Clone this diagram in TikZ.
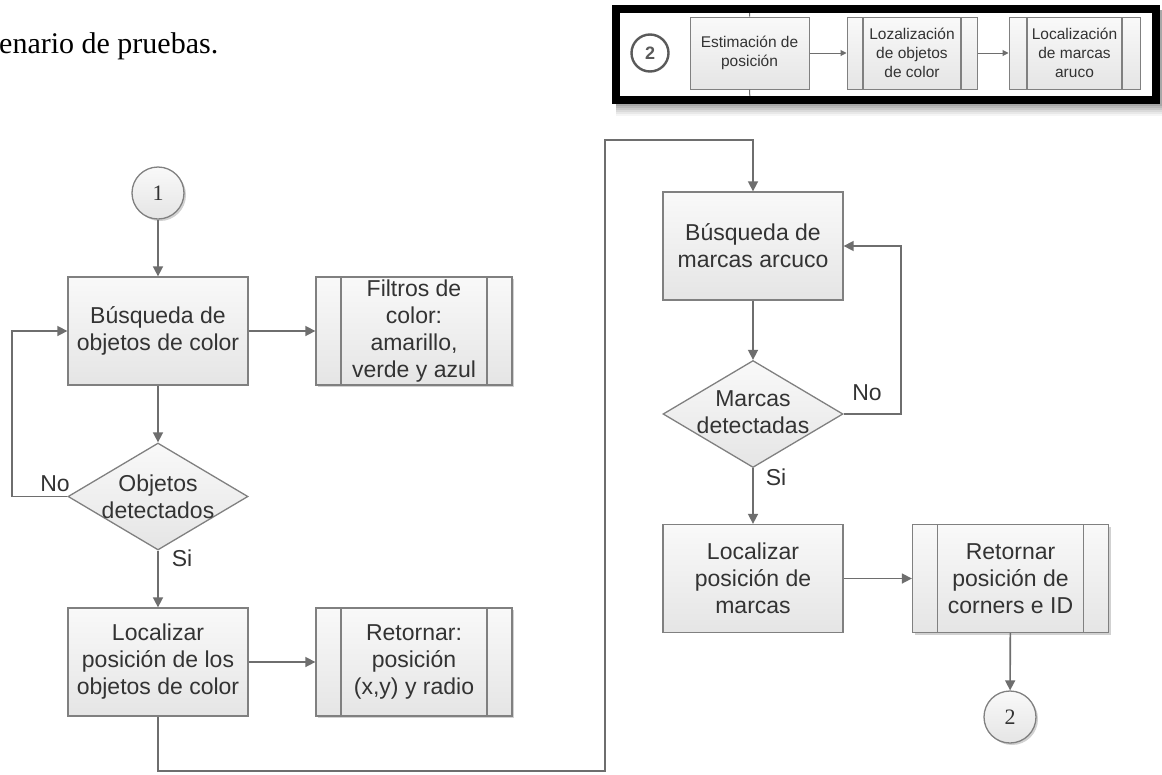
\documentclass[tikz,border=0pt]{standalone}
\usepackage{fontspec}
\setmainfont{Liberation Serif}
\newfontfamily\flowsans{Liberation Sans}
\usetikzlibrary{arrows.meta,shapes.geometric,shadows}

\definecolor{linegray}{HTML}{6E6E6E}
\definecolor{edgegray}{HTML}{808080}
\definecolor{txtgray}{HTML}{333333}
\definecolor{fillA}{HTML}{F9F9F9}
\definecolor{fillB}{HTML}{E5E5E5}
\definecolor{ringgray}{HTML}{5A5A5A}

\tikzset{
  boxbase/.style={draw=edgegray, line width=1.3pt, top color=fillA, bottom color=fillB,
    text=txtgray, align=center, inner sep=0pt},
  bigfont/.style={font=\flowsans\fontsize{23}{27}\selectfont},
  smallfont/.style={font=\flowsans\fontsize{15.5}{19}\selectfont},
  procbox/.style={boxbase, bigfont, minimum width=180pt, minimum height=108pt},
  bars/.style={path picture={
      \draw[draw=edgegray, line width=1.3pt]
        ([xshift=#1]path picture bounding box.north west) -- ([xshift=#1]path picture bounding box.south west)
        ([xshift=-#1]path picture bounding box.north east) -- ([xshift=-#1]path picture bounding box.south east);}},
  softshadow/.style={drop shadow={shadow xshift=2pt, shadow yshift=-2pt, opacity=0.18, fill=black}},
  predefbox/.style={boxbase, bigfont, minimum width=196pt, minimum height=108pt, bars=25pt, softshadow},
  decision/.style={diamond, draw=edgegray, line width=1.3pt, top color=fillA, bottom color=fillB,
    inner sep=0pt, minimum width=180pt, minimum height=107pt},
  dectext/.style={bigfont, text=txtgray, align=center, inner sep=0pt},
  connector/.style={circle, draw=edgegray, line width=1.3pt, top color=fillA, bottom color=fillB,
    minimum size=52pt, inner sep=0pt, text=txtgray, font=\fontsize{22}{22}\selectfont, softshadow},
  flow/.style={draw=linegray, line width=1.6pt, -{Triangle[width=10pt,length=10pt]}},
  answer/.style={bigfont, text=txtgray, inner sep=0pt},
  minibox/.style={boxbase, smallfont, minimum height=72pt, line width=1pt},
  miniflow/.style={draw=linegray, line width=1pt, -{Triangle[width=6pt,length=6pt]}},
}

\begin{document}
\begin{tikzpicture}[x=1pt, y=-1pt]
\useasboundingbox (0,0) rectangle (1162,774);
\fill[white] (0,0) rectangle (1162,774);

% caption fragment
\node[anchor=base west, inner sep=0pt, font=\fontsize{30}{31}\selectfont] (cap) at (-1,53) {enario de pruebas.};

% ---------------- overview strip (top right) ----------------
\foreach \k/\o in {2/0.10,4/0.08,6/0.07,8/0.06,10/0.05,12/0.04}
  \fill[black, opacity=\o] (616,10) rectangle (1162,104+\k);
\fill[white] (616,9) rectangle (1156,100);
\coordinate (stripTop) at (750,9);
\coordinate (stripBot) at (750,100);

\node[circle, draw=ringgray, line width=2.4pt, minimum size=37pt, inner sep=0pt,
      text=ringgray, font=\flowsans\bfseries\fontsize{18}{18}\selectfont] (s2) at (650,53) {2};
\node[minibox, minimum width=119pt] (est) at (749.5,53) {Estimación de\\posición};
\node[minibox, minimum width=130pt, bars=16pt] (loz) at (912,53) {Lozalización\\de objetos\\de color};
\node[minibox, minimum width=131pt, bars=18pt] (loc) at (1074.5,53) {Localización\\de marcas\\aruco};
\draw[draw=linegray, line width=1pt] (est.north) -- (stripTop);
\draw[draw=linegray, line width=1pt] (est.south) -- (stripBot);
\draw[miniflow] (est) -- (loz);
\draw[miniflow] (loz) -- (loc);
\draw[black, line width=8pt] (616,9) rectangle (1156,100);

% ---------------- colour objects ----------------
\node[connector] (c1) at (158,193) {1};
\node[procbox] (b1) at (158,331) {Búsqueda de\\objetos de color};
\node[predefbox] (f1) at (414,331) {Filtros de\\color:\\amarillo,\\verde y azul};
\node[decision] (d1) at (158,496.5) {};
\node[dectext] (d1t) at (158,496.5) {Objetos\\detectados};
\node[procbox] (l1) at (158,662) {Localizar\\posición de los\\objetos de color};
\node[predefbox] (r1) at (414,662) {Retornar:\\posición\\(x,y) y radio};

\node[answer] (no1) at (55,484) {No};
\node[answer] (si1) at (182,558) {Si};

\coordinate (loopL) at (12,331);
\draw[flow] (c1) -- (b1);
\draw[flow] (b1) -- (f1);
\draw[flow] (b1) -- (d1);
\draw[flow] (d1.west) -| (loopL) -- (b1.west);
\draw[flow] (d1) -- (l1);
\draw[flow] (l1) -- (r1);

% ---------------- link between columns ----------------
\coordinate (jb) at (605,771);
\coordinate (jt) at (605,140);

% ---------------- aruco markers ----------------
\node[procbox] (b2) at (753,246) {Búsqueda de\\marcas arcuco};
\node[decision] (d2) at (753,414) {};
\node[dectext] (d2t) at (753,412) {Marcas\\detectadas};
\node[procbox] (l2) at (753,578.5) {Localizar\\posición de\\marcas};
\node[predefbox] (r2) at (1010.5,578.5) {Retornar\\posición de\\corners e ID};
\node[connector] (c2) at (1010,717) {2};

\node[answer] (no2) at (867,393) {No};
\node[answer] (si2) at (776,477) {Si};

\coordinate (loopR) at (901,246);
\draw[flow] (l1.south) |- (jb) -- (jt) -| (b2.north);
\draw[flow] (b2) -- (d2);
\draw[flow] (d2.east) -| (loopR) -- (b2.east);
\draw[flow] (d2) -- (l2);
\draw[flow] (l2) -- (r2);
\draw[flow] (r2) -- (c2);
\end{tikzpicture}
\end{document}
